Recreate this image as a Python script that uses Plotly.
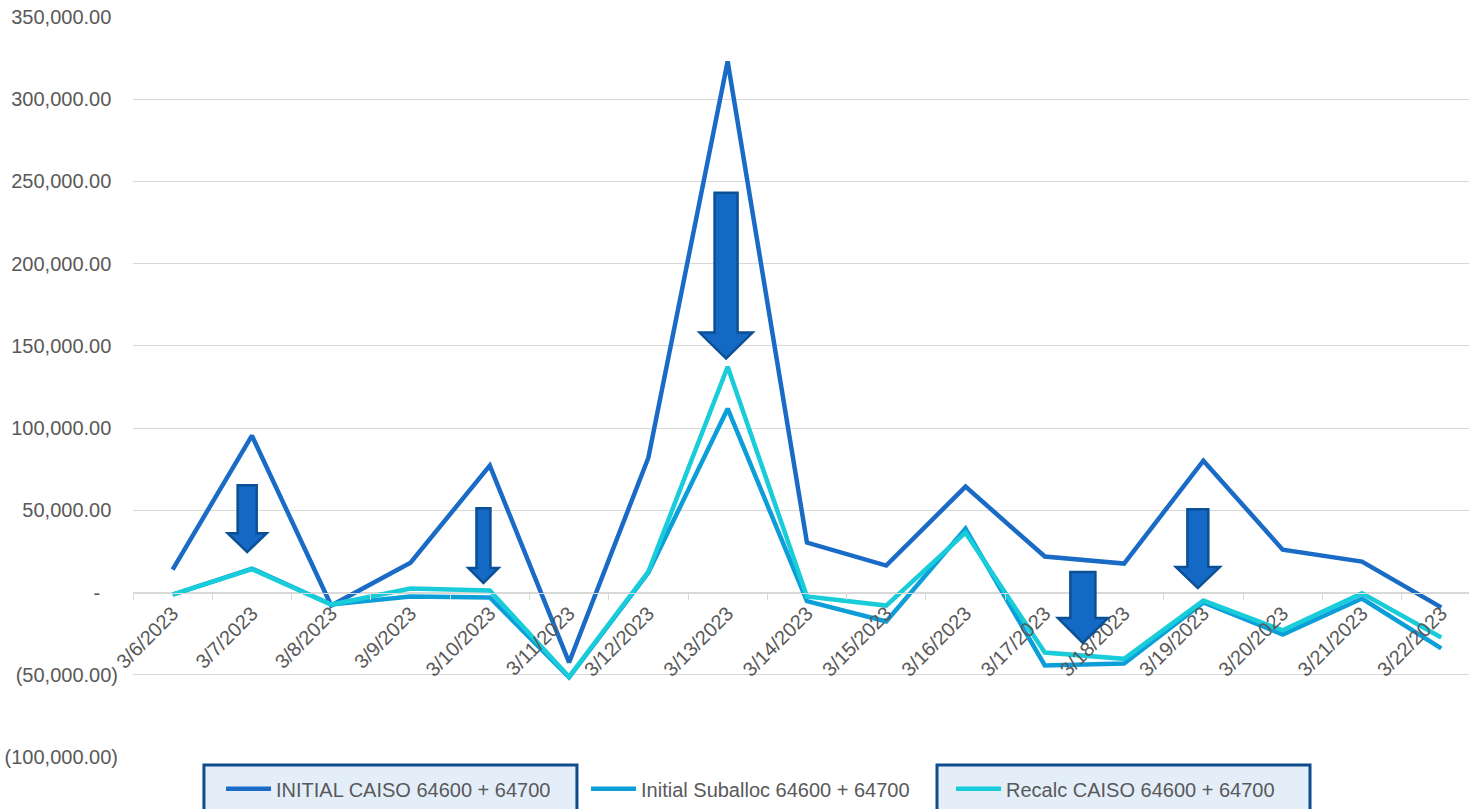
import plotly.graph_objects as go

# ---------------- data ----------------
dates = ["3/6/2023", "3/7/2023", "3/8/2023", "3/9/2023", "3/10/2023", "3/11/2023",
         "3/12/2023", "3/13/2023", "3/14/2023", "3/15/2023", "3/16/2023", "3/17/2023",
         "3/18/2023", "3/19/2023", "3/20/2023", "3/21/2023", "3/22/2023"]

initial_caiso = [14000, 95400, -7900, 18200, 77200, -42500, 82000, 323000, 30400,
                 16400, 64400, 21900, 17600, 80200, 26100, 18800, -9000]
initial_suballoc = [-1200, 14600, -7300, -2400, -3000, -51600, 12200, 111800, -5200,
                    -17600, 38900, -44300, -43100, -6000, -25500, -3600, -34000]
recalc_caiso = [-1200, 14200, -7300, 2400, 1200, -51200, 12800, 137300, -2400,
                -7900, 36400, -36500, -40300, -4900, -23000, -500, -27300]

series_names = ["INITIAL CAISO 64600 + 64700", "Initial Suballoc 64600 + 64700",
                "Recalc CAISO 64600 + 64700"]
series_colors = ["#1A6BC6", "#0B9ED9", "#18CCD9"]

y_tick_vals = [-100000, -50000, 0, 50000, 100000, 150000, 200000, 250000, 300000, 350000]

# annotation arrows: (center index, top value, head-start value, tip value, shaft half width, head half width)
arrows = [
    (0.94, 65250, 36100, 24600, 0.12, 0.246),
    (3.92, 51300, 14900, 5800, 0.088, 0.19),
    (6.98, 243100, 158100, 142300, 0.145, 0.334),
    (11.48, 12450, -15500, -30650, 0.158, 0.315),
    (12.93, 50700, 15500, 2700, 0.132, 0.277),
]

# ---------------- helpers ----------------
GRAY_TXT = "#595959"
GRID = "#D9D9D9"
HID = "<span style='color:rgba(0,0,0,0)'>{}</span>"


def acct(v):
    if v == 0:
        return "-" + HID.format("0)")
    if v < 0:
        return "({:,.2f})".format(-v)
    return "{:,.2f}".format(v) + HID.format(")")


xidx = list(range(len(dates)))

fig = go.Figure()
for name, vals, col in zip(series_names, [initial_caiso, initial_suballoc, recalc_caiso], series_colors):
    fig.add_trace(go.Scatter(x=xidx, y=vals, mode="lines", name=name,
                             line=dict(color=col, width=4.5)))

shapes = []
for cx, top, hs, tip, sw, hw in arrows:
    path = (f"M{cx - sw},{top} L{cx + sw},{top} L{cx + sw},{hs} L{cx + hw},{hs} "
            f"L{cx},{tip} L{cx - hw},{hs} L{cx - sw},{hs} Z")
    shapes.append(dict(type="path", xref="x", yref="y", path=path,
                       fillcolor="#1469C4", line=dict(color="#0B4F94", width=2.5),
                       layer="above"))

# highlighted legend boxes
for x0, x1 in [(0.0531, 0.3323), (0.6018, 0.881)]:
    shapes.append(dict(type="rect", xref="paper", yref="paper", x0=x0, x1=x1,
                       y0=-0.0108, y1=-0.09, fillcolor="#E4EEF9",
                       line=dict(color="#0E4C8C", width=3), layer="below"))

fig.update_layout(
    width=1469, height=809,
    margin=dict(l=133, r=0, t=17, b=52),
    paper_bgcolor="white", plot_bgcolor="white",
    font=dict(family="Liberation Sans, Arial, sans-serif", size=20, color=GRAY_TXT),
    showlegend=True,
    legend=dict(orientation="h", x=0.0659, xanchor="left", y=-0.043, yanchor="middle",
                bgcolor="rgba(0,0,0,0)", font=dict(size=20, color=GRAY_TXT),
                entrywidth=305, entrywidthmode="pixels", itemwidth=45),
    shapes=shapes,
    xaxis=dict(range=[-0.5, 16.35], tickmode="array", tickvals=xidx, ticktext=dates,
               tickangle=-45, ticks="", showgrid=False, zeroline=False,
               showline=True, linecolor=GRID, linewidth=1.3,
               anchor="free", position=100000 / 450000,
               minor=dict(tickmode="linear", tick0=-0.5, dtick=1, ticks="outside",
                          ticklen=6, tickcolor=GRID, tickwidth=1.3, showgrid=False),
               tickfont=dict(size=20, color=GRAY_TXT)),
    yaxis=dict(range=[-100000, 350000], tickmode="array", tickvals=y_tick_vals,
               ticktext=[acct(v) for v in y_tick_vals], showgrid=True, gridcolor=GRID,
               gridwidth=1.3, zeroline=False, showline=False, ticks="",
               ticklabelstandoff=14, tickfont=dict(size=20, color=GRAY_TXT)),
)

fig.write_html("out.html")
